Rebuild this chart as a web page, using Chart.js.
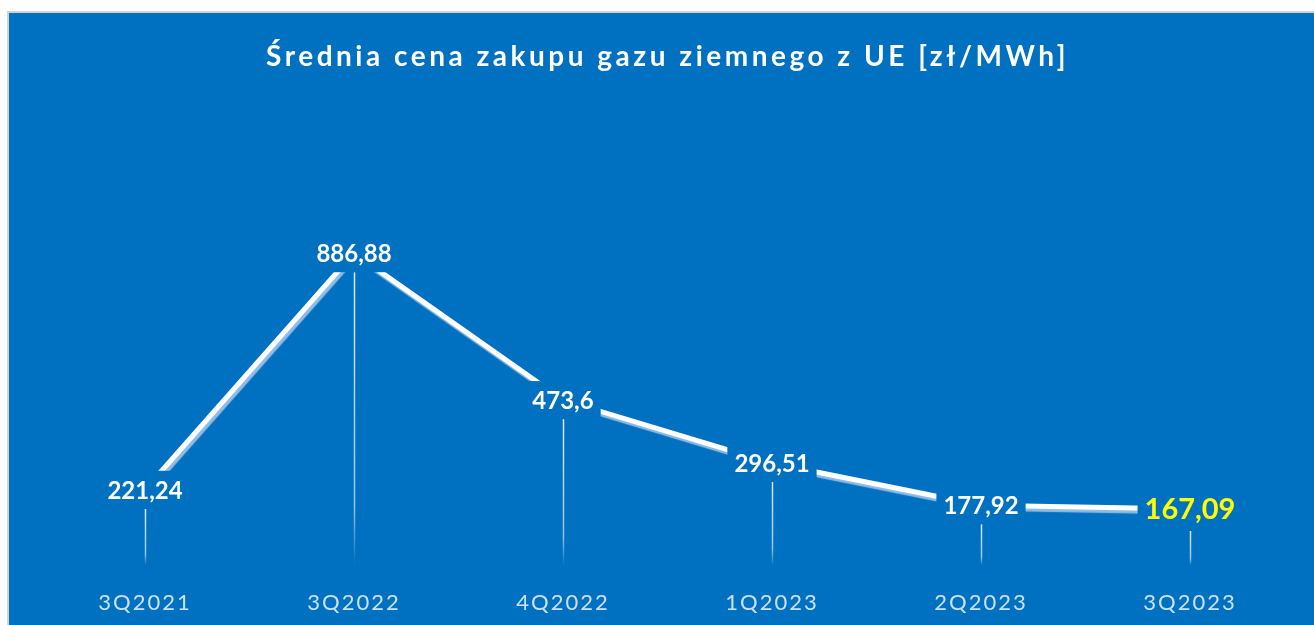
<!DOCTYPE html>
<html lang="pl">
<head>
    <meta charset="UTF-8">
    <title>Średnia cena zakupu gazu ziemnego z UE</title>
    <style>
        body { margin: 0; background: #fff; overflow: hidden; }
        .frame {
            position: absolute; left: 7px; top: 11px;
            width: 1320px; height: 630px;
            border: 2px solid #d2d2d2;
            background: #0070c0;
            overflow: hidden;
        }
        .chart-box { position: absolute; left: 0; top: 0; width: 1305px; height: 630px; }
    </style>
</head>
<body>
    <div class="frame">
        <div class="chart-box"><canvas id="gasChart"></canvas></div>
    </div>

    <script src="https://cdn.jsdelivr.net/npm/chart.js@4.4.0/dist/chart.umd.min.js"></script>
    <script>
        const quarters = ['3Q2021', '3Q2022', '4Q2022', '1Q2023', '2Q2023', '3Q2023'];
        const prices = [221.24, 886.88, 473.6, 296.51, 177.92, 167.09];
        const priceLabels = ['221,24', '886,88', '473,6', '296,51', '177,92', '167,09'];

        const BG = '#0070c0';
        const FONT = 'Lato, "Open Sans", sans-serif';

        // wide letter spacing for the title (drawn before datasets)
        const spacingPlugin = {
            id: 'spacing',
            beforeDraw(chart) { chart.ctx.letterSpacing = '3.5px'; },
            afterDraw(chart) { chart.ctx.letterSpacing = '0px'; }
        };

        // shadow under the white line
        const lineShadow = {
            id: 'lineShadow',
            beforeDatasetDraw(chart) {
                const ctx = chart.ctx;
                ctx.save();
                ctx.shadowColor = 'rgba(190,215,245,0.75)';
                ctx.shadowOffsetX = 2;
                ctx.shadowOffsetY = 3;
                ctx.shadowBlur = 1;
            },
            afterDatasetDraw(chart) { chart.ctx.restore(); }
        };

        // thin drop lines from each point to the bottom
        const dropLines = {
            id: 'dropLines',
            beforeDatasetsDraw(chart) {
                const ctx = chart.ctx;
                const bottom = chart.chartArea.bottom - 3;
                chart.getDatasetMeta(0).data.forEach((pt, i) => {
                    const top = pt.y + (i === prices.length - 1 ? 22 : 19);
                    const g = ctx.createLinearGradient(0, top, 0, bottom);
                    g.addColorStop(0, 'rgba(255,255,255,0.85)');
                    g.addColorStop(0.8, 'rgba(255,255,255,0.6)');
                    g.addColorStop(1, 'rgba(255,255,255,0)');
                    ctx.save();
                    ctx.strokeStyle = g;
                    ctx.lineWidth = 1.5;
                    ctx.beginPath();
                    ctx.moveTo(Math.round(pt.x) + 0.5, top);
                    ctx.lineTo(Math.round(pt.x) + 0.5, bottom);
                    ctx.stroke();
                    ctx.restore();
                });
            }
        };

        // value labels on a blue box that cuts the line
        const valueLabels = {
            id: 'valueLabels',
            afterDatasetsDraw(chart) {
                const ctx = chart.ctx;
                const pts = chart.getDatasetMeta(0).data;
                ctx.save();
                ctx.letterSpacing = '0px';
                ctx.textAlign = 'center';
                ctx.textBaseline = 'middle';
                pts.forEach((pt, i) => {
                    const last = i === pts.length - 1;
                    ctx.font = 'bold ' + (last ? 29 : 24) + 'px ' + FONT;
                    const w = ctx.measureText(priceLabels[i]).width;
                    ctx.fillStyle = BG;
                    ctx.fillRect(pt.x - w / 2 - 7, pt.y - 19, w + 14, 38);
                    ctx.fillStyle = last ? '#ffff00' : '#ffffff';
                    ctx.fillText(priceLabels[i], pt.x, pt.y + 1);
                });
                ctx.restore();
                // x tick labels are drawn after this (ticks.z: 1)
                ctx.letterSpacing = '2px';
            }
        };

        new Chart(document.getElementById('gasChart'), {
            type: 'line',
            data: {
                labels: quarters,
                datasets: [{
                    data: prices,
                    borderColor: '#ffffff',
                    borderWidth: 5,
                    pointRadius: 0,
                    tension: 0,
                    fill: false
                }]
            },
            options: {
                responsive: true,
                maintainAspectRatio: false,
                animation: false,
                layout: { padding: { left: 31.5, right: 19.5, top: 0, bottom: 14.2 } },
                scales: {
                    x: {
                        offset: true,
                        grid: { display: false },
                        border: { display: false },
                        ticks: {
                            z: 1,
                            color: 'rgba(255,255,255,0.8)',
                            padding: 13,
                            font: { family: FONT, size: 22 }
                        }
                    },
                    y: {
                        display: false,
                        min: 0,
                        max: 1000
                    }
                },
                plugins: {
                    legend: { display: false },
                    tooltip: { enabled: false },
                    title: {
                        display: true,
                        text: 'Średnia cena zakupu gazu ziemnego z UE [zł/MWh]',
                        color: '#ffffff',
                        font: { family: FONT, size: 28, weight: 'bold' },
                        padding: { top: 27.2, bottom: 139.2 }
                    }
                }
            },
            plugins: [spacingPlugin, lineShadow, dropLines, valueLabels]
        });
    </script>
</body>
</html>
